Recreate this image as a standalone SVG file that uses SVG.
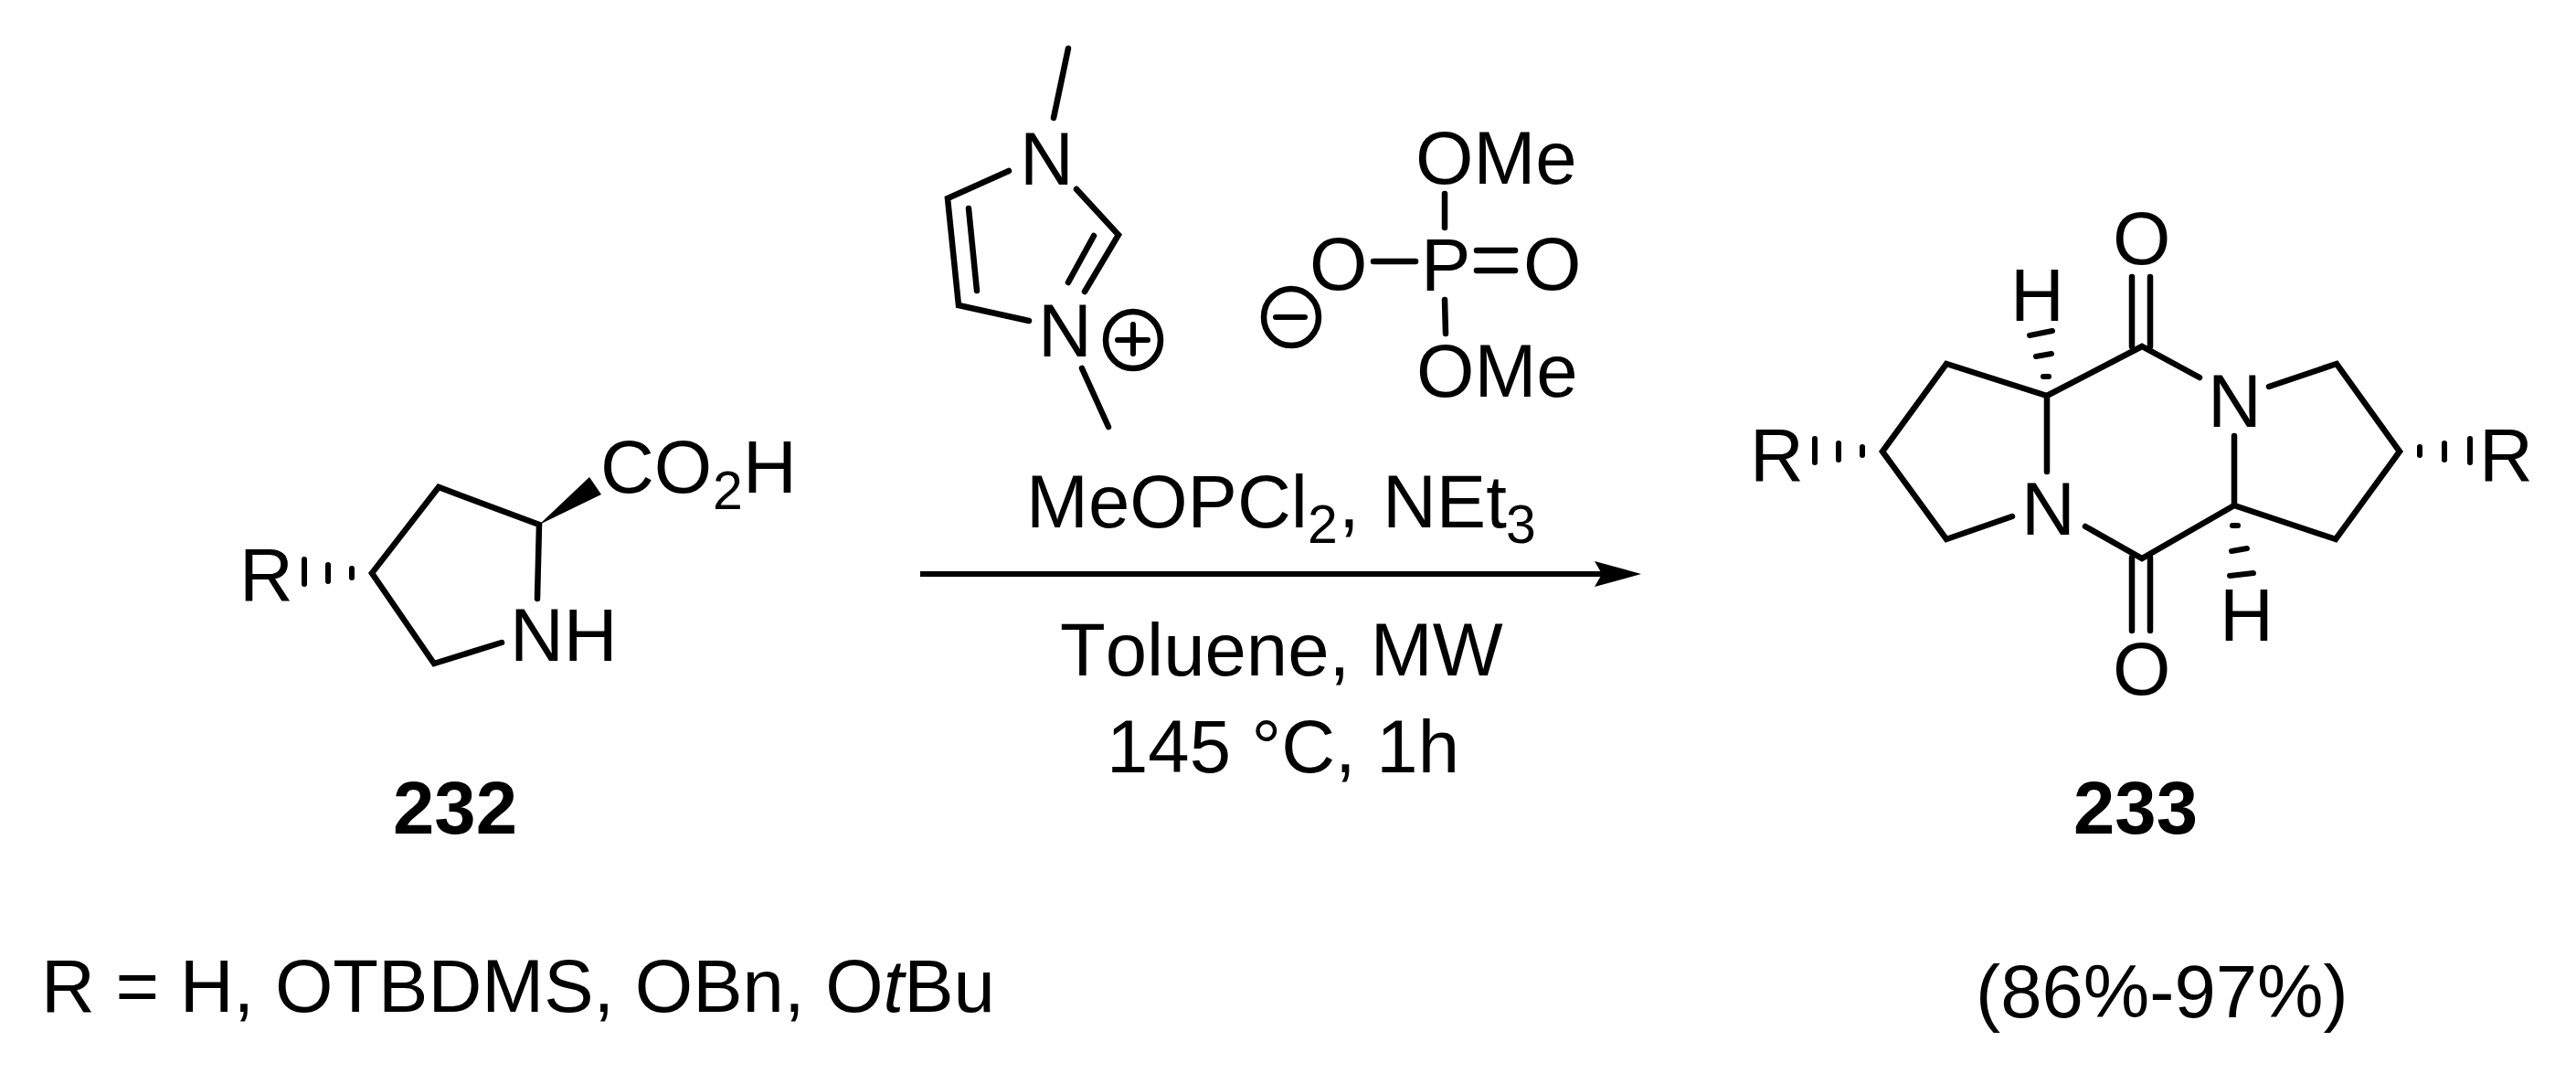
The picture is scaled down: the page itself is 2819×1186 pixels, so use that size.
<svg xmlns="http://www.w3.org/2000/svg" width="2819" height="1186" viewBox="0 0 2819 1186">
<style>
text{font-family:"Liberation Sans",Arial,sans-serif;font-size:81.5px;fill:#000;font-kerning:none}
.b{font-weight:700}
.s{font-size:59px}
.l{fill:none;stroke:#000;stroke-width:6.5;stroke-linecap:round;stroke-linejoin:miter}
.h{fill:none;stroke:#000;stroke-width:6;stroke-linecap:round}
</style>
<defs>
<marker id="ah" markerUnits="userSpaceOnUse" markerWidth="52" markerHeight="30" refX="15" refY="14" orient="auto"><path d="M0 0L51 14L0 28L8 14Z" fill="#000"/></marker>
</defs>
<rect width="2819" height="1186" fill="#fff"/>
<g id="connectors">
<line x1="1007" y1="628" x2="1760" y2="628" stroke="#000" stroke-width="6" marker-end="url(#ah)"/>
</g>
<g id="compound-232">
<path class="l" d="M588 655L590 574L480 533L407 627L475 726L549 703"/>
<path d="M590 574L645 522L658 541Z" fill="#000"/>
<path class="h" d="M333 612V639M359 618V636M385 622V632"/>
<text x="262" y="657">R</text>
<text x="657" y="539">CO</text><text class="s" x="780" y="557">2</text><text x="813" y="539">H</text>
<text x="558" y="723">NH</text>
</g>
<g id="imidazolium">
<path class="l" d="M1169 53L1153 129"/>
<path class="l" d="M1104 187L1037 217L1049 334L1126 351"/>
<path class="l" d="M1060 228L1069 318"/>
<path class="l" d="M1178 207L1224 257L1187 319"/>
<path class="l" d="M1197 258L1169 309"/>
<path class="l" d="M1184 403L1213 467"/>
<text x="1116" y="202">N</text>
<text x="1136" y="390">N</text>
<ellipse class="l" cx="1240" cy="372" rx="30" ry="31"/>
<path class="h" d="M1223 372H1256M1240 355V387"/>
</g>
<g id="phosphate">
<text x="1549" y="201">OMe</text>
<path class="l" d="M1581 212V249"/>
<text x="1433" y="317">O</text>
<path class="l" d="M1503 286H1549"/>
<text x="1555" y="318">P</text>
<path class="l" d="M1616 274H1658M1616 296H1658"/>
<text x="1667" y="317">O</text>
<path class="l" d="M1581 328L1582 365"/>
<text x="1550" y="434">OMe</text>
<ellipse class="l" cx="1413" cy="347" rx="30" ry="31"/>
<path class="h" d="M1396 347H1428"/>
</g>
<g id="conditions">
<text x="1123" y="577">MeOPCl</text><text class="s" x="1431" y="594">2</text><text x="1465" y="577">,</text>
<text x="1513" y="577">NEt</text><text class="s" x="1648" y="594">3</text>
<text x="1160" y="739">Toluene, MW</text>
<text x="1211" y="845">145 °C, 1h</text>
</g>
<g id="compound-233">
<path class="l" d="M2202 565L2130 590L2060 494L2130 398L2240 433L2344 379L2407 413"/>
<path class="l" d="M2240 433V516"/>
<path class="l" d="M2483 423L2557 398L2626 494L2556 590L2445 553L2344 611L2282 576"/>
<path class="l" d="M2445 477V553"/>
<path class="l" d="M2333 303V379M2353 303V379M2333 610V690M2353 610V690"/>
<path class="h" d="M2221 367L2246 362M2228 390L2245 387M2236 412H2242"/>
<path class="h" d="M2443 575H2449M2442 603L2459 600M2440 630L2466 627"/>
<path class="h" d="M1986 480V506M2012 485V503M2038 489V498M2648 489V498M2675 485V503M2703 480V506"/>
<text x="1915" y="526">R</text>
<text x="2713" y="526">R</text>
<text x="2312" y="289">O</text>
<text x="2312" y="760">O</text>
<text x="2200" y="351">H</text>
<text x="2429" y="701">H</text>
<text x="2416" y="467">N</text>
<text x="2212" y="585">N</text>
</g>
<g id="labels">
<text class="b" x="430" y="912">232</text>
<text class="b" x="2269" y="912">233</text>
<text x="45" y="1107">R = H, OTBDMS, OBn, O<tspan font-style="italic">t</tspan>Bu</text>
<text x="2162" y="1113">(86%-97%)</text>
</g>
</svg>
